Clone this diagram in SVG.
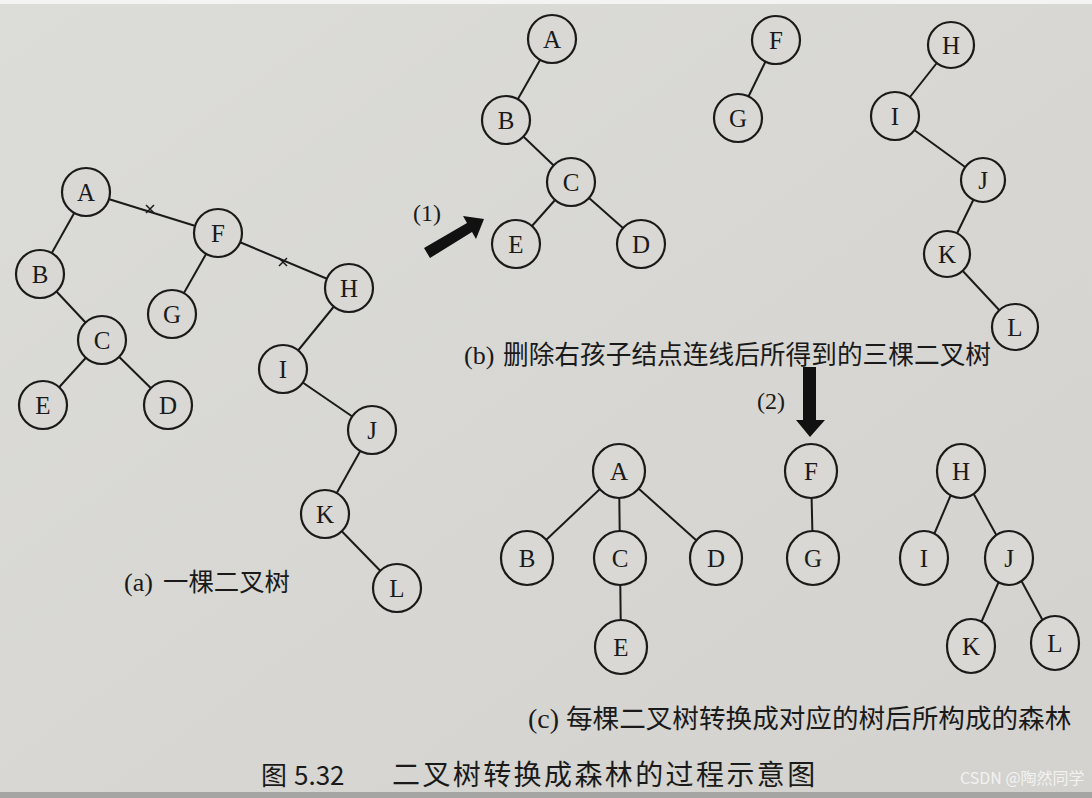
<svg xmlns="http://www.w3.org/2000/svg" width="1092" height="798" viewBox="0 0 1092 798">
<defs>
<style>
.n circle, .n ellipse { fill: #d9d8d4; stroke: #1a1a1a; stroke-width: 2.2; }
.n text { font-family: "Liberation Serif", "Times New Roman", serif; font-size: 25px; fill: #1a1a1a; text-anchor: middle; dominant-baseline: central; }
.e line { stroke: #1a1a1a; stroke-width: 2; }
.x { stroke: #1a1a1a; stroke-width: 1.5; }
.lat { font-family: "Liberation Serif", "Times New Roman", serif; fill: #1a1a1a; }
.cjk { font-family: "Noto Sans CJK SC", "Noto Sans", sans-serif; fill: #1a1a1a; }
.arrow { fill: #111; }
</style>
<linearGradient id="bg" x1="0" y1="0" x2="1" y2="1">
<stop offset="0" stop-color="#dcdcd8"/>
<stop offset="1" stop-color="#d3d2ce"/>
</linearGradient>
</defs>
<rect x="0" y="0" width="1092" height="798" fill="url(#bg)"/>
<rect x="0" y="0" width="1092" height="4" fill="#f4f4f4"/>
<rect x="0" y="792" width="1092" height="6" fill="#a5a5a3"/>

<g id="connectors" class="e">
<!-- (a) -->
<line x1="86" y1="192" x2="40" y2="274"/>
<line x1="86" y1="192" x2="218" y2="233"/>
<line x1="40" y1="274" x2="102" y2="340"/>
<line x1="102" y1="340" x2="43" y2="405"/>
<line x1="102" y1="340" x2="168" y2="405"/>
<line x1="218" y1="233" x2="172" y2="314"/>
<line x1="218" y1="233" x2="349" y2="288"/>
<line x1="349" y1="288" x2="283" y2="369"/>
<line x1="283" y1="369" x2="372" y2="430"/>
<line x1="372" y1="430" x2="325" y2="514"/>
<line x1="325" y1="514" x2="397" y2="588"/>
<!-- (b) -->
<line x1="552" y1="39" x2="506" y2="120"/>
<line x1="506" y1="120" x2="571" y2="182"/>
<line x1="571" y1="182" x2="516" y2="244"/>
<line x1="571" y1="182" x2="641" y2="244"/>
<line x1="776" y1="40" x2="738" y2="118"/>
<line x1="951" y1="45" x2="895" y2="116"/>
<line x1="895" y1="116" x2="983" y2="180"/>
<line x1="983" y1="180" x2="947" y2="254"/>
<line x1="947" y1="254" x2="1015" y2="327"/>
<!-- (c) -->
<line x1="619" y1="471" x2="527" y2="558"/>
<line x1="619" y1="471" x2="620" y2="558"/>
<line x1="619" y1="471" x2="716" y2="558"/>
<line x1="620" y1="558" x2="621" y2="647"/>
<line x1="811" y1="471" x2="813" y2="558"/>
<line x1="961" y1="471" x2="924" y2="558"/>
<line x1="961" y1="471" x2="1009" y2="558"/>
<line x1="1009" y1="558" x2="971" y2="646"/>
<line x1="1009" y1="558" x2="1055" y2="643"/>
<!-- cut marks -->
<path class="x" d="M146 205 L154 213 M146 213 L154 205"/>
<path class="x" d="M279 258 L287 266 M279 266 L287 258"/>
</g>

<!-- (a) nodes -->
<g id="a-A" class="n"><circle cx="86" cy="192" r="24"/><text x="86" y="192">A</text></g>
<g id="a-B" class="n"><circle cx="40" cy="274" r="24"/><text x="40" y="274">B</text></g>
<g id="a-C" class="n"><circle cx="102" cy="340" r="24"/><text x="102" y="340">C</text></g>
<g id="a-E" class="n"><circle cx="43" cy="405" r="24"/><text x="43" y="405">E</text></g>
<g id="a-D" class="n"><circle cx="168" cy="405" r="24"/><text x="168" y="405">D</text></g>
<g id="a-F" class="n"><circle cx="218" cy="233" r="24"/><text x="218" y="233">F</text></g>
<g id="a-G" class="n"><circle cx="172" cy="314" r="24"/><text x="172" y="314">G</text></g>
<g id="a-H" class="n"><circle cx="349" cy="288" r="24"/><text x="349" y="288">H</text></g>
<g id="a-I" class="n"><circle cx="283" cy="369" r="24"/><text x="283" y="369">I</text></g>
<g id="a-J" class="n"><circle cx="372" cy="430" r="24"/><text x="372" y="430">J</text></g>
<g id="a-K" class="n"><circle cx="325" cy="514" r="24"/><text x="325" y="514">K</text></g>
<g id="a-L" class="n"><circle cx="397" cy="588" r="24"/><text x="397" y="588">L</text></g>

<!-- (b) nodes -->
<g id="b-A" class="n"><circle cx="552" cy="39" r="24"/><text x="552" y="39">A</text></g>
<g id="b-B" class="n"><circle cx="506" cy="120" r="24"/><text x="506" y="120">B</text></g>
<g id="b-C" class="n"><circle cx="571" cy="182" r="24"/><text x="571" y="182">C</text></g>
<g id="b-E" class="n"><circle cx="516" cy="244" r="24"/><text x="516" y="244">E</text></g>
<g id="b-D" class="n"><circle cx="641" cy="244" r="24"/><text x="641" y="244">D</text></g>
<g id="b-F" class="n"><circle cx="776" cy="40" r="24"/><text x="776" y="40">F</text></g>
<g id="b-G" class="n"><circle cx="738" cy="118" r="24"/><text x="738" y="118">G</text></g>
<g id="b-H" class="n"><circle cx="951" cy="45" r="23"/><text x="951" y="45">H</text></g>
<g id="b-I" class="n"><circle cx="895" cy="116" r="24"/><text x="895" y="116">I</text></g>
<g id="b-J" class="n"><circle cx="983" cy="180" r="22"/><text x="983" y="180">J</text></g>
<g id="b-K" class="n"><circle cx="947" cy="254" r="23"/><text x="947" y="254">K</text></g>
<g id="b-L" class="n"><circle cx="1015" cy="327" r="23"/><text x="1015" y="327">L</text></g>

<!-- (c) nodes -->
<g id="c-A" class="n"><ellipse cx="619" cy="471" rx="26" ry="27"/><text x="619" y="471">A</text></g>
<g id="c-B" class="n"><ellipse cx="527" cy="558" rx="26" ry="27"/><text x="527" y="558">B</text></g>
<g id="c-C" class="n"><ellipse cx="620" cy="558" rx="26" ry="27"/><text x="620" y="558">C</text></g>
<g id="c-D" class="n"><ellipse cx="716" cy="558" rx="26" ry="27"/><text x="716" y="558">D</text></g>
<g id="c-E" class="n"><ellipse cx="621" cy="647" rx="26" ry="27"/><text x="621" y="647">E</text></g>
<g id="c-F" class="n"><ellipse cx="811" cy="471" rx="26" ry="27"/><text x="811" y="471">F</text></g>
<g id="c-G" class="n"><ellipse cx="813" cy="558" rx="26" ry="27"/><text x="813" y="558">G</text></g>
<g id="c-H" class="n"><ellipse cx="961" cy="471" rx="24" ry="27"/><text x="961" y="471">H</text></g>
<g id="c-I" class="n"><ellipse cx="924" cy="558" rx="24" ry="27"/><text x="924" y="558">I</text></g>
<g id="c-J" class="n"><ellipse cx="1009" cy="558" rx="24" ry="27"/><text x="1009" y="558">J</text></g>
<g id="c-K" class="n"><ellipse cx="971" cy="646" rx="24" ry="27"/><text x="971" y="646">K</text></g>
<g id="c-L" class="n"><ellipse cx="1055" cy="643" rx="24" ry="27"/><text x="1055" y="643">L</text></g>

<!-- arrows -->
<g id="arrow1">
<polygon class="arrow" points="424,248 467,223 463,216 484,219 476,239 472,232 430,258"/>
<text class="lat" x="413" y="221" font-size="24">(1)</text>
</g>
<g id="arrow2">
<polygon class="arrow" points="803,367 816,367 816,420 825,420 810,437 796,420 803,420"/>
<text class="lat" x="757" y="409" font-size="24">(2)</text>
</g>

<!-- labels -->
<g id="label-a">
<text class="lat" x="124" y="591" font-size="26">(a)</text>
<text class="cjk" x="163" y="591" font-size="25.4">一棵二叉树</text>
</g>
<g id="label-b">
<text class="lat" x="464" y="364" font-size="26">(b)</text>
<text class="cjk" x="503" y="364" font-size="25.7">删除右孩子结点连线后所得到的三棵二叉树</text>
</g>
<g id="label-c">
<text class="lat" x="528" y="728" font-size="28">(c)</text>
<text class="cjk" x="566" y="728" font-size="26.6">每棵二叉树转换成对应的树后所构成的森林</text>
</g>
<g id="caption">
<text class="cjk" x="261" y="785" font-size="26">图</text>
<text class="cjk" x="294" y="785" font-size="26" fill="#222">5.32</text>
<text class="cjk" x="392" y="785" font-size="28" letter-spacing="2.4">二叉树转换成森林的过程示意图</text>
</g>
<text x="960" y="784" font-family="'Noto Sans CJK SC', 'Noto Sans', sans-serif" font-size="16" fill="#f2f2f2">CSDN @陶然同学</text>
</svg>
